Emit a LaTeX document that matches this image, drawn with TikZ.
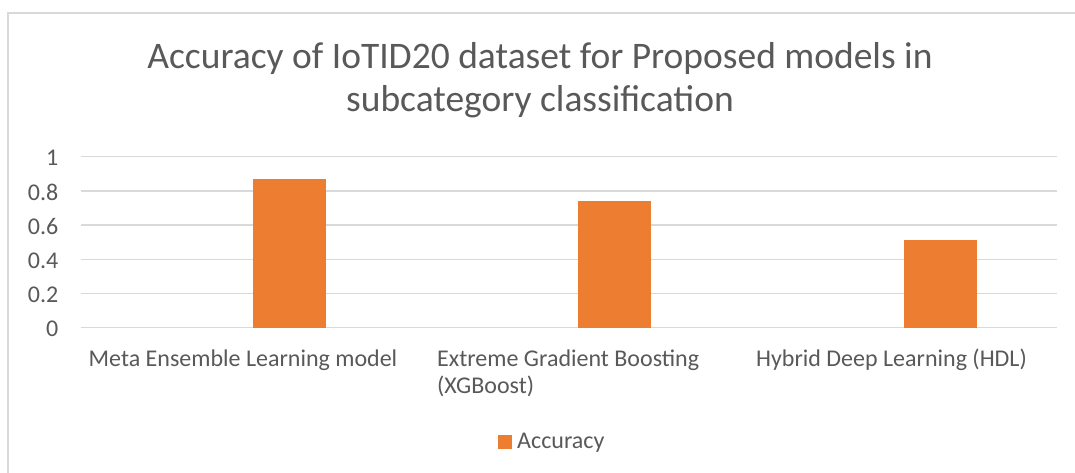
\documentclass[tikz,border=0pt]{standalone}
\usepackage{fontspec}
\setmainfont{Carlito}
\definecolor{barorange}{HTML}{ED7D31}
\definecolor{gridgray}{HTML}{D9D9D9}
\definecolor{txtgray}{HTML}{595959}
\begin{document}
\begin{tikzpicture}[x=1pt,y=-1pt,
  gridline/.style={draw=gridgray,line width=1.3pt},
  bar/.style={fill=barorange,draw=none},
  ticklbl/.style={anchor=east,inner sep=0pt,text=txtgray,font=\fontsize{24}{28}\selectfont},
  catlbl/.style={inner sep=0pt,text=txtgray,font=\fontsize{24}{27.5}\selectfont},
  titlelbl/.style={inner sep=0pt,text=txtgray,font=\fontsize{37.5}{43}\selectfont,align=center}]
\useasboundingbox (0,0) rectangle (1075,473);
\fill[white] (0,0) rectangle (1075,473);
% chart border
\draw[draw=gridgray,line width=1.5pt] (8,473) -- (8,13) -- (1075,13);
% gridlines and tick labels
\foreach \v [count=\i from 0] in {0,0.2,0.4,0.6,0.8,1}{
  \coordinate (gl\i) at (81,327.7-171*\i*0.2);
  \coordinate (gr\i) at (1057,327.7-171*\i*0.2);
  \draw[gridline] (gl\i) -- (gr\i);
  \node[ticklbl] (t\i) at (58.5,329-171*\i*0.2) {\v};
}
% bars
\fill[bar] (253,327.7) rectangle (326,{327.7-171*0.872});
\fill[bar] (578,327.7) rectangle (651,{327.7-171*0.741});
\fill[bar] (904,327.7) rectangle (977,{327.7-171*0.513});
% category labels
\node[catlbl] (c1) at (243,360) {Meta Ensemble Learning model};
\node[catlbl,anchor=west,align=left] (c2) at (437,373.5) {Extreme Gradient Boosting\\(XGBoost)};
\node[catlbl] (c3) at (891.5,360) {Hybrid Deep Learning (HDL)};
% legend
\fill[barorange] (498,435) rectangle (512,449);
\node[catlbl,anchor=west] (leg) at (517,443) {Accuracy};
% title
\node[titlelbl] (title) at (540,80) {Accuracy of IoTID20 dataset for Proposed models in\\subcategory classification};
\end{tikzpicture}
\end{document}
